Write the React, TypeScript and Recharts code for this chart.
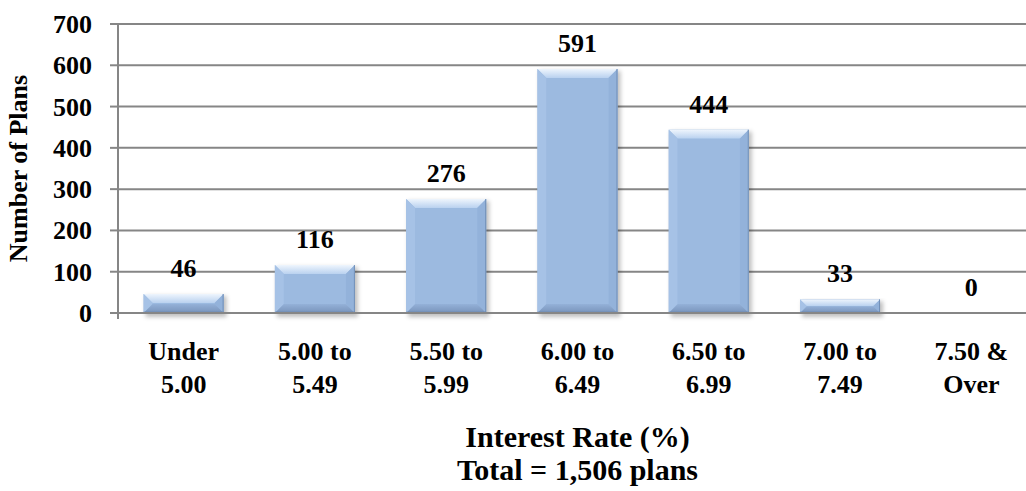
import React from 'react';
import { BarChart, Bar, XAxis, YAxis, CartesianGrid, LabelList } from 'recharts';

const categories: string[][] = [
  ['Under', '5.00'],
  ['5.00 to', '5.49'],
  ['5.50 to', '5.99'],
  ['6.00 to', '6.49'],
  ['6.50 to', '6.99'],
  ['7.00 to', '7.49'],
  ['7.50 &', 'Over'],
];
const planCounts: number[] = [46, 116, 276, 591, 444, 33, 0];
const yTicks: number[] = [0, 100, 200, 300, 400, 500, 600, 700];
const xTitleLines: string[] = ['Interest Rate (%)', 'Total = 1,506 plans'];
const yTitle = 'Number of Plans';

const data = categories.map((c, i) => ({ key: c.join(' '), lines: c, value: planCounts[i] }));

const FONT = '"Liberation Serif", "Times New Roman", Times, serif';
const GRID = '#868686';
const textStyle: React.CSSProperties = { fontFamily: FONT, fontWeight: 700, fill: '#000' };
const TICK_SIZE = 8;
const TICK_MARGIN = 18;

const BevelBar = (props: any) => {
  const { x, y, width: w, height: h } = props;
  if (!h || h <= 0) return null;
  const b = Math.min(9, h / 2);
  return (
    <g>
      <rect x={x + 2} y={y + 2} width={w + 1} height={h + 2} fill="rgba(0,0,0,0.25)" filter="url(#barShadow)" />
      <rect x={x} y={y} width={w} height={h} fill="#9CBAE0" />
      <polygon points={`${x},${y} ${x + w},${y} ${x + w - b},${y + b} ${x + b},${y + b}`} fill="url(#topFace)" />
      <polygon points={`${x},${y} ${x + b},${y + b} ${x + b},${y + h - b} ${x},${y + h}`} fill="#A6C2E6" />
      <polygon points={`${x + w},${y} ${x + w - b},${y + b} ${x + w - b},${y + h - b} ${x + w},${y + h}`} fill="#93B2DA" />
      <polygon points={`${x},${y + h} ${x + b},${y + h - b} ${x + w - b},${y + h - b} ${x + w},${y + h}`} fill="url(#bottomFace)" />
      <rect x={x + b} y={y + b} width={w - 2 * b} height={Math.max(0, h - 2 * b)} fill="#9CBAE0" />
      <line x1={x + w - 0.5} y1={y} x2={x + w - 0.5} y2={y + h} stroke="#7290B8" strokeWidth={1} />
      <line x1={x} y1={y + h - 0.5} x2={x + w} y2={y + h - 0.5} stroke="#647FA6" strokeWidth={1.5} />
    </g>
  );
};

const XTick = (props: any) => {
  const { x, y, payload } = props;
  const item = data.find((d) => d.key === payload.value);
  const lines = item ? item.lines : [String(payload.value)];
  return (
    <text x={x} y={y} textAnchor="middle" fontSize={26} style={textStyle}>
      {lines.map((l, i) => (
        <tspan key={i} x={x} dy={i === 0 ? 39 : 33}>{l}</tspan>
      ))}
    </text>
  );
};

const YTick = (props: any) => {
  const { x, y, payload } = props;
  const axisX = x + TICK_SIZE + TICK_MARGIN;
  return (
    <g>
      {payload.value === 0 && (
        <line x1={axisX} y1={y} x2={axisX} y2={y + 6} stroke={GRID} strokeWidth={2} />
      )}
      <text x={x} y={y} dy={9} textAnchor="end" fontSize={26} style={textStyle}>
        {payload.value}
      </text>
    </g>
  );
};

const XTitle = (props: any) => {
  const { viewBox } = props;
  const cx = viewBox.x + viewBox.width / 2;
  return (
    <text x={cx} y={viewBox.y} textAnchor="middle" fontSize={30} style={textStyle}>
      {xTitleLines.map((l, i) => (
        <tspan key={i} x={cx} dy={i === 0 ? 134 : 33}>{l}</tspan>
      ))}
    </text>
  );
};

const YTitle = (props: any) => {
  const { viewBox } = props;
  const cy = viewBox.y + viewBox.height / 2;
  const cx = 18;
  return (
    <text x={cx} y={cy} dy={9} transform={`rotate(-90, ${cx}, ${cy})`} textAnchor="middle" fontSize={26} style={textStyle}>
      {yTitle}
    </text>
  );
};

const ValueLabel = (props: any) => {
  const { x, y, width, value } = props;
  return (
    <text x={x + width / 2} y={y - 17} textAnchor="middle" fontSize={26} style={textStyle}>
      {value}
    </text>
  );
};

export default function App() {
  return (
    <div style={{ position: 'absolute', left: 0, top: 0, width: 1026, height: 491, overflow: 'hidden', background: '#fff' }}>
      <BarChart
        width={1050}
        height={491}
        data={data}
        margin={{ top: 24, right: 13, left: 0, bottom: 0 }}
        barCategoryGap="19.5%"
      >
        <defs>
          <filter id="barShadow" x="-20%" y="-20%" width="140%" height="140%">
            <feGaussianBlur stdDeviation="2" />
          </filter>
          <linearGradient id="topFace" x1="0" y1="0" x2="0" y2="1">
            <stop offset="0%" stopColor="#EEF5FD" />
            <stop offset="100%" stopColor="#B9D1EF" />
          </linearGradient>
          <linearGradient id="bottomFace" x1="0" y1="0" x2="0" y2="1">
            <stop offset="0%" stopColor="#94B1D8" />
            <stop offset="100%" stopColor="#7893BA" />
          </linearGradient>
        </defs>
        <CartesianGrid vertical={false} stroke={GRID} strokeWidth={2} />
        <XAxis
          dataKey="key"
          height={178}
          axisLine={{ stroke: GRID, strokeWidth: 2 }}
          tickLine={false}
          tick={<XTick />}
          interval={0}
          label={<XTitle />}
        />
        <YAxis
          width={118}
          domain={[0, 700]}
          ticks={yTicks}
          interval={0}
          axisLine={{ stroke: GRID, strokeWidth: 2 }}
          tickLine={{ stroke: GRID, strokeWidth: 2 }}
          tickSize={TICK_SIZE}
          tickMargin={TICK_MARGIN}
          tick={<YTick />}
          label={<YTitle />}
        />
        <Bar dataKey="value" shape={<BevelBar />} isAnimationActive={false}>
          <LabelList dataKey="value" content={<ValueLabel />} />
        </Bar>
      </BarChart>
    </div>
  );
}
